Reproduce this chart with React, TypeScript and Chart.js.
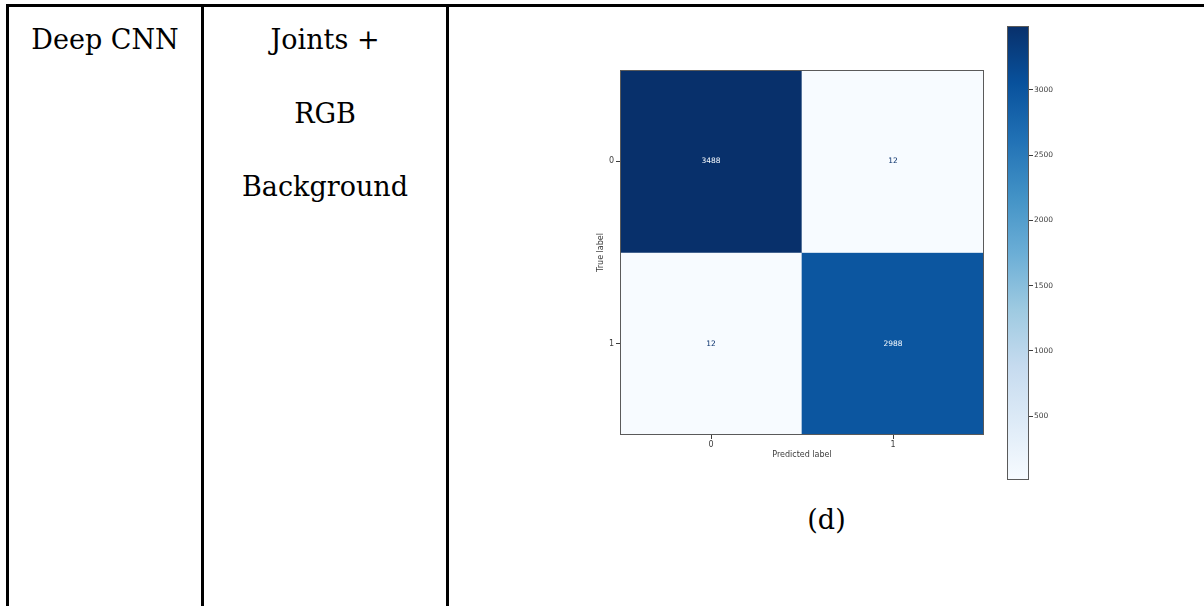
import React, { useEffect, useRef } from 'react';
import { Chart, registerables } from 'chart.js';

Chart.register(...registerables);

// ---- data ----
const predictedLabels = ['0', '1'];
const trueLabels = ['0', '1'];
const rowTrue0 = [3488, 12];
const rowTrue1 = [12, 2988];
const matrixRows = [rowTrue0, rowTrue1];
const colorbarTicks = [500, 1000, 1500, 2000, 2500, 3000];
const colorMin = 12;
const colorMax = 3488;
const methodText = 'Deep CNN';
const inputLines = ['Joints +', 'RGB', 'Background'];
const captionText = '(d)';
const xTitle = 'Predicted label';
const yTitle = 'True label';

// ---- Blues colormap ----
const BLUES = ['#f7fbff', '#deebf7', '#c6dbef', '#9ecae1', '#6baed6', '#4292c6', '#2171b5', '#08519c', '#08306b'];
function hexToRgb(h: string) {
  const n = parseInt(h.slice(1), 16);
  return [(n >> 16) & 255, (n >> 8) & 255, n & 255];
}
function blues(t: number) {
  const c = Math.max(0, Math.min(1, t));
  const pos = c * 8;
  const i = Math.min(7, Math.floor(pos));
  const f = pos - i;
  const a = hexToRgb(BLUES[i]);
  const b = hexToRgb(BLUES[i + 1]);
  const m = a.map((v, k) => Math.round(v + (b[k] - v) * f));
  return `rgb(${m[0]},${m[1]},${m[2]})`;
}

const SANS = "'DejaVu Sans', sans-serif";
const SERIF = "'DejaVu Serif', serif";
const AX_COLOR = '#3c3c3c';
const SPINE = '#5a5a5a';

const framePlugin = {
  id: 'frame',
  afterDraw(chart: any) {
    const { left, top, right, bottom } = chart.chartArea;
    const ctx = chart.ctx;
    ctx.save();
    ctx.strokeStyle = SPINE;
    ctx.lineWidth = 1;
    ctx.strokeRect(left + 0.5, top + 0.5, right - left - 1, bottom - top - 1);
    ctx.restore();
  },
};

function MatrixChart() {
  const ref = useRef<HTMLCanvasElement>(null);
  useEffect(() => {
    const thresh = (colorMin + colorMax) / 2;
    const labelPlugin = {
      id: 'cellLabels',
      afterDatasetsDraw(chart: any) {
        const ctx = chart.ctx;
        ctx.save();
        ctx.font = `7.5px ${SANS}`;
        ctx.textAlign = 'center';
        ctx.textBaseline = 'middle';
        chart.data.datasets.forEach((ds: any, r: number) => {
          const meta = chart.getDatasetMeta(r);
          meta.data.forEach((bar: any, c: number) => {
            const p = bar.getProps(['x', 'y', 'base'], true);
            const v = matrixRows[r][c];
            ctx.fillStyle = v > thresh ? BLUES[0] : BLUES[8];
            ctx.fillText(String(v), p.x, (p.y + p.base) / 2);
          });
        });
        ctx.restore();
      },
    };
    const chart = new Chart(ref.current as HTMLCanvasElement, {
      type: 'bar',
      data: {
        labels: predictedLabels,
        datasets: matrixRows.map((row, r) => ({
          label: 'True ' + trueLabels[r],
          data: row.map(() => [r, r + 1]),
          backgroundColor: row.map((v) => blues((v - colorMin) / (colorMax - colorMin))),
          borderWidth: 0,
          categoryPercentage: 1,
          barPercentage: 1,
          grouped: false,
        })),
      } as any,
      options: {
        animation: false,
        responsive: false,
        maintainAspectRatio: false,
        layout: { padding: { left: 0, right: 16, top: 20, bottom: 0 } },
        plugins: { legend: { display: false }, tooltip: { enabled: false } },
        scales: {
          x: {
            type: 'category',
            offset: true,
            afterFit: (s: any) => { s.height = 45; },
            grid: { display: true, offset: false, drawOnChartArea: false, drawTicks: true, tickLength: 4, color: AX_COLOR },
            border: { display: false },
            ticks: { padding: 1, color: AX_COLOR, font: { family: SANS, size: 8 } },
            title: { display: true, text: xTitle, color: AX_COLOR, font: { family: SANS, size: 8 }, padding: { top: 0, bottom: 20 } },
          },
          y: {
            type: 'linear',
            min: 0,
            max: 2,
            reverse: true,
            afterFit: (s: any) => { s.width = 60; },
            afterBuildTicks: (s: any) => { s.ticks = trueLabels.map((_, i) => ({ value: i + 0.5 })); },
            grid: { display: true, drawOnChartArea: false, drawTicks: true, tickLength: 4, color: AX_COLOR },
            border: { display: false },
            ticks: { padding: 2, color: AX_COLOR, font: { family: SANS, size: 8 }, callback: (_v: any, i: number) => trueLabels[i] },
            title: { display: true, text: yTitle, color: AX_COLOR, font: { family: SANS, size: 8 }, padding: { top: 36, bottom: 0 } },
          },
        },
      } as any,
      plugins: [labelPlugin, framePlugin],
    });
    return () => chart.destroy();
  }, []);
  return (
    <canvas
      ref={ref}
      width={440}
      height={430}
      style={{ position: 'absolute', left: 560, top: 50, width: 440, height: 430 }}
    />
  );
}

function ColorbarChart() {
  const ref = useRef<HTMLCanvasElement>(null);
  useEffect(() => {
    const chart = new Chart(ref.current as HTMLCanvasElement, {
      type: 'bar',
      data: {
        labels: ['colorbar'],
        datasets: [
          {
            label: 'scale',
            data: [[colorMin, colorMax]],
            backgroundColor: (c: any) => {
              const ca = c.chart.chartArea;
              if (!ca) return BLUES[4];
              const g = c.chart.ctx.createLinearGradient(0, ca.bottom, 0, ca.top);
              BLUES.forEach((col, i) => g.addColorStop(i / 8, col));
              return g;
            },
            borderWidth: 0,
            categoryPercentage: 1,
            barPercentage: 1,
          },
        ],
      } as any,
      options: {
        animation: false,
        responsive: false,
        maintainAspectRatio: false,
        layout: { padding: { left: 7, right: 0, top: 10, bottom: 10 } },
        plugins: { legend: { display: false }, tooltip: { enabled: false } },
        scales: {
          x: { display: false },
          y: {
            type: 'linear',
            position: 'right',
            min: colorMin,
            max: colorMax,
            afterFit: (s: any) => { s.width = 41; },
            afterBuildTicks: (s: any) => { s.ticks = colorbarTicks.map((v) => ({ value: v })); },
            grid: { display: true, drawOnChartArea: false, drawTicks: true, tickLength: 4, color: AX_COLOR },
            border: { display: false },
            ticks: { padding: 1, color: AX_COLOR, font: { family: SANS, size: 7.5 }, callback: (v: any) => String(v) },
          },
        },
      } as any,
      plugins: [framePlugin],
    });
    return () => chart.destroy();
  }, []);
  return (
    <canvas
      ref={ref}
      width={70}
      height={474}
      style={{ position: 'absolute', left: 1000, top: 16, width: 70, height: 474 }}
    />
  );
}

export default function App() {
  const line = (style: React.CSSProperties) => (
    <div style={{ position: 'absolute', background: '#000', ...style }} />
  );
  const textStyle: React.CSSProperties = {
    position: 'absolute',
    top: 2.8,
    fontFamily: SERIF,
    fontSize: 27,
    lineHeight: '73.7px',
    textAlign: 'center',
    color: '#000',
    whiteSpace: 'nowrap',
  };
  return (
    <div style={{ position: 'absolute', left: 0, top: 0, width: 1204, height: 606, overflow: 'hidden', background: '#fff' }}>
      {line({ left: 6, top: 4, width: 1198, height: 3 })}
      {line({ left: 6, top: 4, width: 3, height: 602 })}
      {line({ left: 201, top: 4, width: 3, height: 602 })}
      {line({ left: 446, top: 4, width: 3, height: 602 })}
      <div style={{ ...textStyle, left: 9, width: 192 }}>{methodText}</div>
      <div style={{ ...textStyle, left: 204, width: 242 }}>
        {inputLines.map((t) => (
          <div key={t}>{t}</div>
        ))}
      </div>
      <MatrixChart />
      <ColorbarChart />
      <div style={{ ...textStyle, top: 505, left: 449, width: 755, lineHeight: '30px' }}>{captionText}</div>
    </div>
  );
}
